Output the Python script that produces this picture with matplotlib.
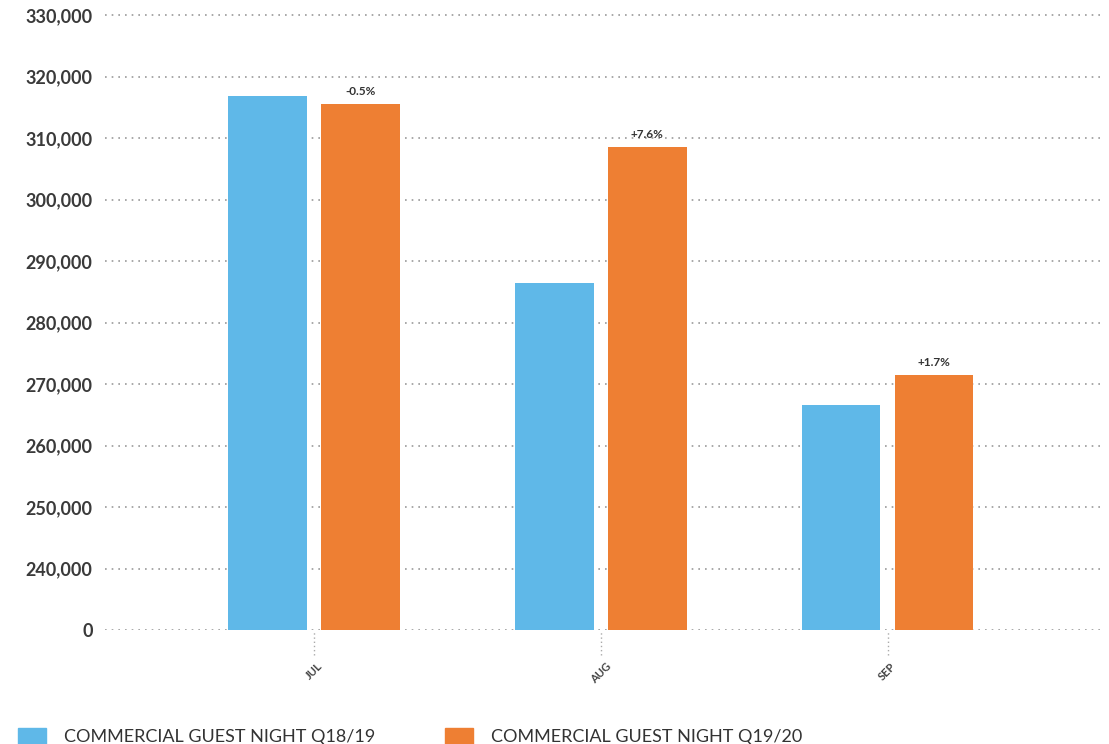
import matplotlib
matplotlib.use("Agg")
import matplotlib.pyplot as plt
import matplotlib.transforms as mtransforms
from matplotlib.patches import Patch
import numpy as np

plt.rcParams['font.family'] = ['Lato', 'DejaVu Sans']

months = ["JUL", "AUG", "SEP"]
q1819 = [316800, 286400, 266600]
q1920 = [315500, 308500, 271500]
pct_labels = ["-0.5%", "+7.6%", "+1.7%"]
series_names = ["COMMERCIAL GUEST NIGHT Q18/19", "COMMERCIAL GUEST NIGHT Q19/20"]
ytick_vals = [230000, 240000, 250000, 260000, 270000, 280000, 290000, 300000, 310000, 320000, 330000]
ytick_labels = ["0", "240,000", "250,000", "260,000", "270,000", "280,000", "290,000",
                "300,000", "310,000", "320,000", "330,000"]

blue = "#5FB8E8"
orange = "#EE7F33"
base = 230000

fig = plt.figure(figsize=(11.09, 7.44), dpi=100)
ax = fig.add_axes([0.0947, 0.1532, 0.902, 0.8398])

x = np.arange(len(months))
w = 0.275
off = 0.162
ax.bar(x - off, np.array(q1819) - base, bottom=base, width=w, color=blue, zorder=3)
ax.bar(x + off, np.array(q1920) - base, bottom=base, width=w, color=orange, zorder=3)

for xi, v, lab in zip(x, q1920, pct_labels):
    ax.annotate(lab, (xi + off, v), xytext=(0, 5), textcoords="offset points",
                ha="center", va="bottom", fontsize=8.5, fontweight="bold", color="#333333")

ax.set_ylim(base, 331600)
ax.set_xlim(-0.73, 2.76)
ax.set_yticks(ytick_vals)
ax.set_yticklabels(ytick_labels, fontsize=13, fontweight="bold", color="#3a3a3a")
ax.tick_params(axis="y", length=0, pad=9)
ax.grid(axis="y", linestyle=(0, (1, 3)), color="#999999", linewidth=1.2, zorder=0)
ax.grid(axis="x", visible=False)

ax.set_xticks(x)
ax.set_xticklabels(months, rotation=45, fontsize=8, fontweight="bold", color="#444444",
                   ha="center", va="top")
ax.tick_params(axis="x", length=0, pad=22)

trans = mtransforms.blended_transform_factory(ax.transData, ax.transAxes)
ax.vlines(x, -0.04, 0, transform=trans, colors="#aaaaaa", linestyles=(0, (1, 2)),
          linewidth=1, clip_on=False)

for s in ax.spines.values():
    s.set_visible(False)

handles = [Patch(color=blue), Patch(color=orange)]
fig.legend(handles, series_names, loc="center left", bbox_to_anchor=(0.016, 0.01),
           ncol=2, frameon=False, fontsize=13, handlelength=1.55, handleheight=1.1,
           handletextpad=1.0, columnspacing=3.9, labelcolor="#333333",
           borderpad=0, borderaxespad=0)

fig.savefig("out.png", dpi=100, facecolor="white")
